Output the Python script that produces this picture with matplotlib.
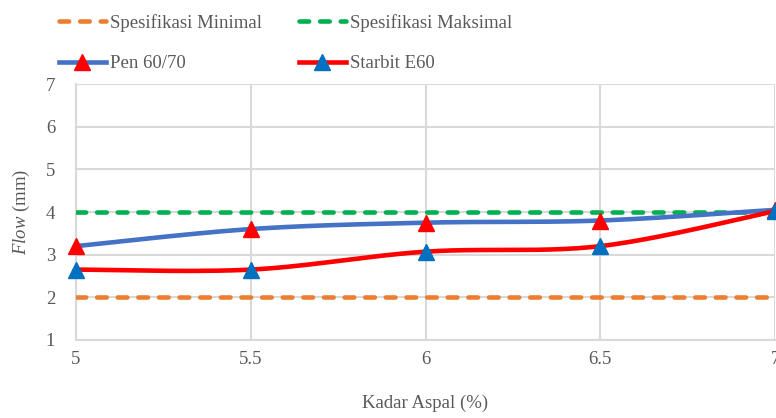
import numpy as np
import matplotlib
matplotlib.use("Agg")
import matplotlib.pyplot as plt
from matplotlib.lines import Line2D

# Data
kadar_aspal = [5, 5.5, 6, 6.5, 7]
pen_60_70 = [3.2, 3.6, 3.75, 3.8, 4.05]
starbit_e60 = [2.65, 2.65, 3.07, 3.2, 4.02]
spec_min = [2, 2, 2, 2, 2]
spec_max = [4, 4, 4, 4, 4]
x_ticks = [5, 5.5, 6, 6.5, 7]
x_tick_labels = ["5", "5.5", "6", "6.5", "7"]
y_ticks = [1, 2, 3, 4, 5, 6, 7]


def smooth_curve(x, y, n=40):
    """Cubic Bezier smoothing through every point (spreadsheet-style smoothed line)."""
    x = np.asarray(x, float)
    y = np.asarray(y, float)
    pts = np.column_stack([x, y])
    out = []
    for i in range(len(pts) - 1):
        p0 = pts[i - 1] if i > 0 else pts[i]
        p1 = pts[i]
        p2 = pts[i + 1]
        p3 = pts[i + 2] if i + 2 < len(pts) else pts[i + 1]
        c1 = p1 + (p2 - p0) / 6.0
        c2 = p2 - (p3 - p1) / 6.0
        t = np.linspace(0, 1, n)[:, None]
        seg = ((1 - t) ** 3) * p1 + 3 * ((1 - t) ** 2) * t * c1 + 3 * (1 - t) * t ** 2 * c2 + t ** 3 * p2
        out.append(seg if i == 0 else seg[1:])
    seg = np.vstack(out)
    return seg[:, 0], seg[:, 1]


plt.rcParams["font.family"] = ["Liberation Serif", "DejaVu Serif"]
plt.rcParams["mathtext.fontset"] = "custom"
plt.rcParams["mathtext.rm"] = "Liberation Serif"
plt.rcParams["mathtext.it"] = "Liberation Serif:italic"

text_color = "#595959"
grid_color = "#d9d9d9"
fs = 13.5

c_orange = "#ED7D31"
c_green = "#00B050"
c_blue = "#4472C4"
c_red = "#FF0000"
c_mblue = "#0070C0"

fig = plt.figure(figsize=(7.76, 4.18), dpi=100)
ax = fig.add_axes([76 / 776, 1 - 340 / 418, (775 - 76) / 776, (340 - 84) / 418])

lw = 3.3
dash = (0, (2.1, 2.4))
ax.plot(kadar_aspal, spec_min, color=c_orange, lw=lw, linestyle=dash,
        dash_capstyle="round", zorder=3)
ax.plot(kadar_aspal, spec_max, color=c_green, lw=lw, linestyle=dash,
        dash_capstyle="round", zorder=3)

xs, ys = smooth_curve(kadar_aspal, pen_60_70)
ax.plot(xs, ys, color=c_blue, lw=lw, solid_capstyle="round", zorder=4, clip_on=False)
ax.plot(kadar_aspal, pen_60_70, linestyle="none", marker="^", ms=12,
        color=c_red, zorder=6, clip_on=False)

xs, ys = smooth_curve(kadar_aspal, starbit_e60)
ax.plot(xs, ys, color=c_red, lw=lw, solid_capstyle="round", zorder=5, clip_on=False)
ax.plot(kadar_aspal, starbit_e60, linestyle="none", marker="^", ms=12,
        color=c_mblue, zorder=6, clip_on=False)

ax.set_xlim(5, 7)
ax.set_ylim(1, 7)
ax.set_xticks(x_ticks)
ax.set_xticklabels(x_tick_labels)
ax.set_yticks(y_ticks)
ax.grid(True, color=grid_color, lw=1.5)
ax.set_axisbelow(True)
for side in ["top", "right"]:
    ax.spines[side].set_visible(False)
for side in ["left", "bottom"]:
    ax.spines[side].set_color(grid_color)
    ax.spines[side].set_linewidth(1.5)
ax.tick_params(length=0, labelsize=fs, colors=text_color)
ax.tick_params(axis="x", pad=8)
ax.tick_params(axis="y", pad=15)

ax.set_xlabel("Kadar Aspal (%)", fontsize=fs, color=text_color, labelpad=19)
ax.set_ylabel(r"$\mathit{Flow}$ (mm)", fontsize=fs, color=text_color, labelpad=10)

handles = [
    Line2D([], [], color=c_orange, lw=lw, linestyle=dash, dash_capstyle="round"),
    Line2D([], [], color=c_blue, lw=lw, marker="^", ms=12, markerfacecolor=c_red,
           markeredgecolor=c_red),
    Line2D([], [], color=c_green, lw=lw, linestyle=dash, dash_capstyle="round"),
    Line2D([], [], color=c_red, lw=lw, marker="^", ms=12, markerfacecolor=c_mblue,
           markeredgecolor=c_mblue),
]
labels = ["Spesifikasi Minimal", "Pen 60/70", "Spesifikasi Maksimal", "Starbit E60"]
leg = fig.legend(handles, labels, ncol=2, loc="upper left",
                 bbox_to_anchor=(42 / 776, 1 + 3 / 418), frameon=False,
                 fontsize=fs, handlelength=2.5, handletextpad=0.2,
                 columnspacing=2.0, labelspacing=1.25, labelcolor=text_color)

fig.savefig("out.png", dpi=100)
